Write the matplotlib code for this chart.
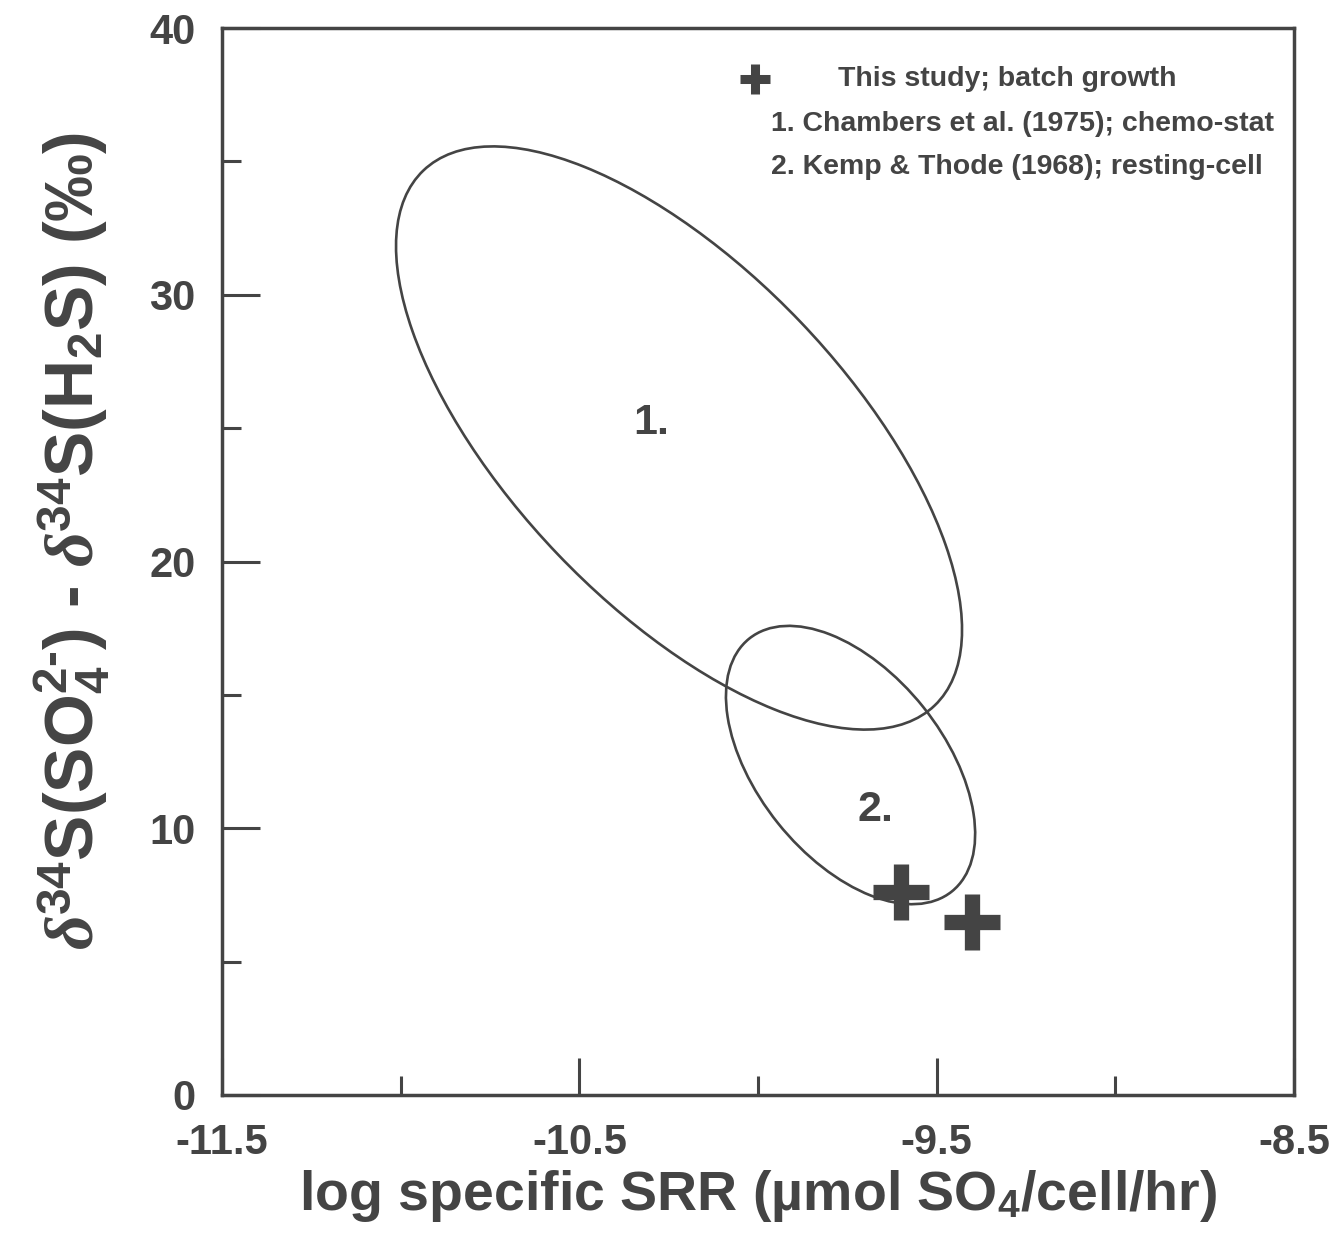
import matplotlib
matplotlib.use('Agg')
import matplotlib.pyplot as plt
from matplotlib.patches import Ellipse
from matplotlib.transforms import ScaledTranslation

plt.rcParams['font.family'] = ['Liberation Sans', 'DejaVu Sans']
plt.rcParams['font.weight'] = 'bold'
plt.rcParams['mathtext.fontset'] = 'custom'
plt.rcParams['mathtext.rm'] = 'Liberation Sans:bold'
plt.rcParams['mathtext.bf'] = 'Liberation Sans:bold'
plt.rcParams['mathtext.it'] = 'Liberation Serif:italic'

INK = '#444444'

# this study (batch growth)
study_srr = [-9.60, -9.40]
study_frac = [7.6, 6.5]

# literature fields: centre (log SRR, permil), full axes (inch), tilt (deg)
field_names = ['1.', '2.']
field_cx = [-10.221, -9.741]
field_cy = [24.63, 12.37]
field_w = [7.40, 3.24]
field_h = [3.36, 1.86]
field_angle = [-46.3, -51.3]
label_x = [-10.30, -9.672]
label_y = [25.2, 10.7]

legend_lines = ['This study; batch growth',
                '1. Chambers et al. (1975); chemo-stat',
                '2. Kemp & Thode (1968); resting-cell']

fig = plt.figure(figsize=(13.44, 12.35), dpi=100)
ax = fig.add_axes([222 / 1344, 140 / 1235, 1072 / 1344, 1067 / 1235])

for cx, cy, w, h, ang in zip(field_cx, field_cy, field_w, field_h, field_angle):
    trans = fig.dpi_scale_trans + ScaledTranslation(cx, cy, ax.transData)
    ax.add_patch(Ellipse((0, 0), w, h, angle=ang, transform=trans,
                         fill=False, edgecolor=INK, linewidth=1.9))

for name, lx, ly in zip(field_names, label_x, label_y):
    ax.text(lx, ly, name, ha='center', va='center', fontsize=31,
            fontweight='bold', color=INK)

ax.plot(study_srr, study_frac, linestyle='none', marker='+', markersize=40,
        markeredgewidth=11, color=INK)

# legend block
ax.plot([0.497], [0.952], transform=ax.transAxes, marker='+', markersize=22,
        markeredgewidth=6.5, color=INK, clip_on=False)
ax.text(0.575, 0.952, legend_lines[0], transform=ax.transAxes, ha='left',
        va='center', fontsize=20.5, color=INK)
ax.text(0.512, 0.910, legend_lines[1], transform=ax.transAxes, ha='left',
        va='center', fontsize=20.5, color=INK)
ax.text(0.512, 0.870, legend_lines[2], transform=ax.transAxes, ha='left',
        va='center', fontsize=20.5, color=INK)

ax.set_xlim(-11.5, -8.5)
ax.set_ylim(0, 40)
ax.set_xticks([-11.5, -10.5, -9.5, -8.5])
ax.set_xticklabels(['-11.5', '-10.5', '-9.5', '-8.5'])
ax.set_xticks([-11.0, -10.0, -9.0], minor=True)
ax.set_yticks([0, 10, 20, 30, 40])
ax.set_yticks([5, 15, 25, 35], minor=True)

ax.tick_params(which='both', direction='in', color=INK, labelcolor=INK, width=2.2)
ax.tick_params(which='major', length=27, labelsize=30)
ax.tick_params(which='minor', length=13.5)
ax.tick_params(axis='x', which='major', pad=20)
ax.tick_params(axis='y', which='major', pad=19)
for lab in ax.get_xticklabels() + ax.get_yticklabels():
    lab.set_fontweight('bold')
for sp in ax.spines.values():
    sp.set_color(INK)
    sp.set_linewidth(2.5)

ax.set_xlabel('log specific SRR (µmol SO$_4$/cell/hr)', fontsize=40,
              fontweight='bold', color=INK, labelpad=4)
ax.set_ylabel(r'$\delta$$^{34}$S(SO$_4^{\text{2-}}$) - $\delta$$^{34}$S(H$_2$S) (‰)',
              fontsize=49, fontweight='bold', color=INK)
ax.yaxis.set_label_coords(-0.1026, 0.519)

fig.savefig('out.png', dpi=100, facecolor='white')
